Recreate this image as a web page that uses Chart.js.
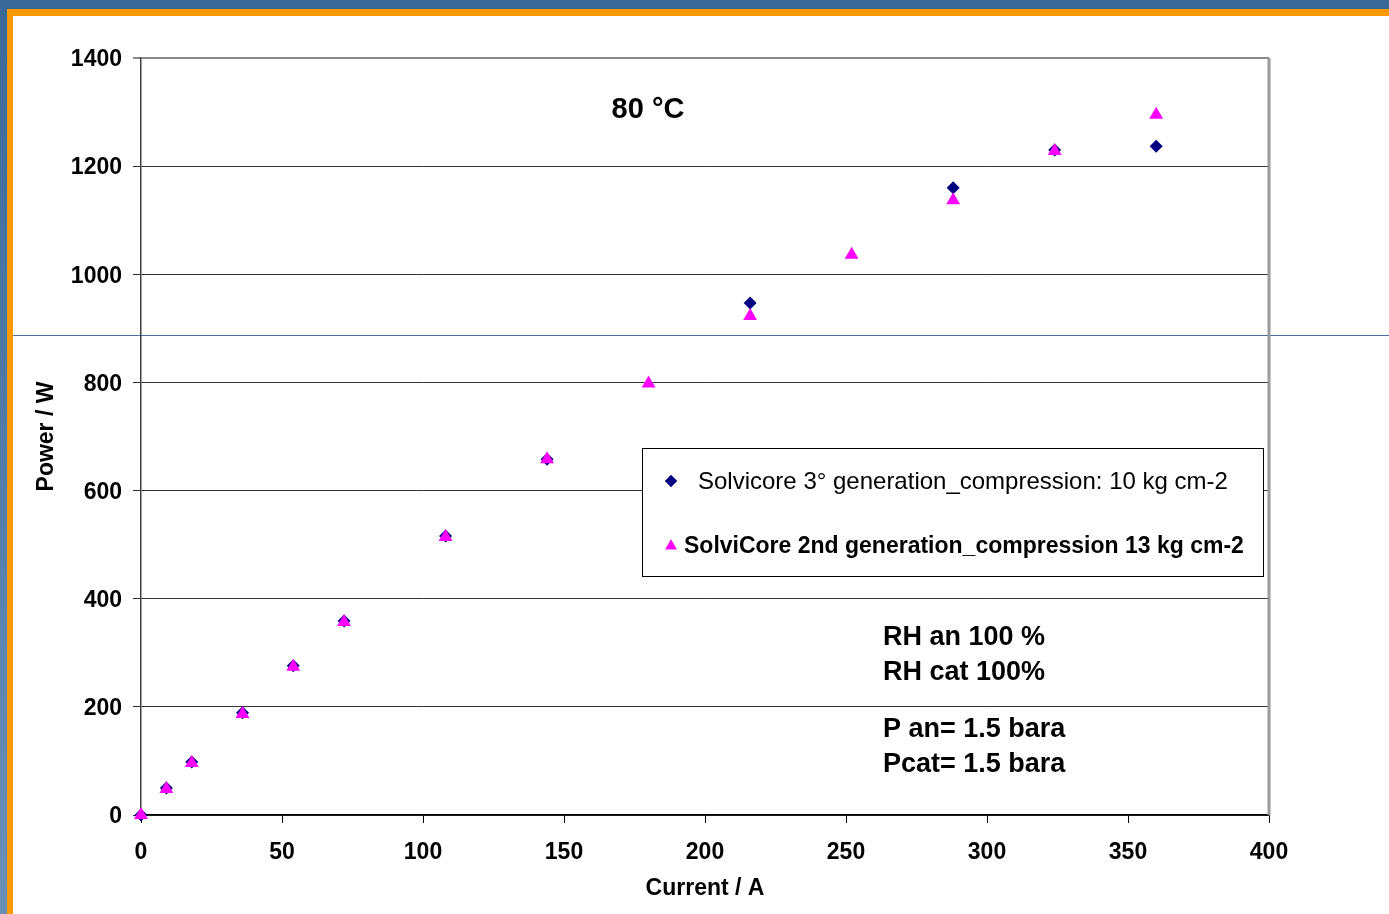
<!DOCTYPE html>
<html>
<head>
<meta charset="utf-8">
<script src="https://cdn.jsdelivr.net/npm/chart.js@4/dist/chart.umd.min.js"></script>
<style>
  html, body { margin: 0; padding: 0; background: #fff; }
  #page { position: relative; width: 1389px; height: 914px; overflow: hidden; background: #fff; }
  .strip { position: absolute; }
  #topBlue { left: 0; top: 0; width: 1389px; height: 9px; background: #3a6999; }
  #leftBlue { left: 0; top: 0; width: 7px; height: 914px; background: linear-gradient(#3a6999, #6a90b8); }
  #topOrange { left: 7px; top: 9px; width: 1382px; height: 7px; background: #ff9900; }
  #leftOrange { left: 7px; top: 9px; width: 6px; height: 905px; background: #ff9900; }
  #rule { left: 13px; top: 335px; width: 1376px; height: 1px; background: #4a6f9f; }
  #wrap { position: absolute; left: 0; top: 0; width: 1389px; height: 914px; }
</style>
</head>
<body>
<div id="page">
  <div class="strip" id="topBlue"></div>
  <div class="strip" id="leftBlue"></div>
  <div class="strip" id="topOrange"></div>
  <div class="strip" id="leftOrange"></div>
  <div class="strip" id="rule"></div>
  <div id="wrap"><canvas id="powerChart" width="1389" height="914"></canvas></div>
</div>
<script>
// Data
const current3rd = [0, 9, 18, 36, 54, 72, 108, 144, 216, 288, 324, 360];
const power3rd   = [0, 50, 98, 189, 276, 359, 516, 658, 947, 1160, 1230, 1237];

const current2nd = [0, 9, 18, 36, 54, 72, 108, 144, 180, 216, 252, 288, 324, 360];
const power2nd   = [0, 48, 96, 187, 274, 357, 514, 658, 798, 923, 1036, 1137, 1228, 1295];

const xTicks = [0, 50, 100, 150, 200, 250, 300, 350, 400];
const yTicks = [0, 200, 400, 600, 800, 1000, 1200, 1400];

const label3rd = "Solvicore 3° generation_compression: 10 kg cm-2";
const label2nd = "SolviCore 2nd generation_compression 13 kg cm-2";
const tempLabel = "80 °C";
const conditions = ["RH an 100 %", "RH cat 100%", "P an= 1.5 bara", "Pcat= 1.5 bara"];

const toPoints = (xs, ys) => xs.map((x, i) => ({ x: x, y: ys[i] }));

const FONT = "'Liberation Sans', Arial, sans-serif";

// frame, legend box and text notes
const extras = {
  id: "extras",
  beforeDatasetsDraw(chart) {
    const { ctx, chartArea } = chart;
    ctx.save();
    ctx.strokeStyle = "#9a9a9a";
    ctx.lineWidth = 3;
    ctx.beginPath();
    ctx.moveTo(chartArea.right, chartArea.top);
    ctx.lineTo(chartArea.right, chartArea.bottom);
    ctx.stroke();
    ctx.restore();
  },
  afterDraw(chart) {
    const { ctx } = chart;
    ctx.save();

    // legend box
    ctx.fillStyle = "#fff";
    ctx.fillRect(642, 448, 621, 128);
    ctx.strokeStyle = "#000";
    ctx.lineWidth = 1;
    ctx.strokeRect(642.5, 448.5, 621, 128);

    const ds = chart.data.datasets;
    ctx.textBaseline = "middle";
    ctx.textAlign = "left";

    ctx.fillStyle = ds[1].backgroundColor;
    Chart.helpers.drawPoint(ctx, { pointStyle: "rectRot", radius: 6, borderWidth: 0 }, 671, 481);
    ctx.fill();
    ctx.fillStyle = "#000";
    ctx.font = "24px " + FONT;
    ctx.fillText(ds[1].label, 698, 482);

    ctx.fillStyle = ds[0].backgroundColor;
    Chart.helpers.drawPoint(ctx, { pointStyle: "triangle", radius: 6.5, borderWidth: 0 }, 671, 546);
    ctx.fill();
    ctx.fillStyle = "#000";
    ctx.font = "bold 23px " + FONT;
    ctx.fillText(ds[0].label, 684, 547);

    // notes
    ctx.font = "bold 29px " + FONT;
    ctx.textAlign = "center";
    ctx.fillText(tempLabel, 648, 110);

    ctx.font = "bold 27px " + FONT;
    ctx.textAlign = "left";
    const noteY = [638, 673, 730, 765];
    conditions.forEach((t, i) => ctx.fillText(t, 883, noteY[i]));

    ctx.restore();
  }
};

const tickFont = { family: FONT, size: 23, weight: "bold" };

new Chart(document.getElementById("powerChart"), {
  type: "scatter",
  data: {
    datasets: [
      {
        label: label2nd,
        data: toPoints(current2nd, power2nd),
        pointStyle: "triangle",
        pointRadius: 8,
        pointHoverRadius: 8,
        backgroundColor: "#ff00ff",
        borderColor: "#ff00ff",
        borderWidth: 0,
        clip: false,
        order: 0
      },
      {
        label: label3rd,
        data: toPoints(current3rd, power3rd),
        pointStyle: "rectRot",
        pointRadius: 6.5,
        pointHoverRadius: 6.5,
        backgroundColor: "#000080",
        borderColor: "#000080",
        borderWidth: 0,
        clip: false,
        order: 1
      }
    ]
  },
  options: {
    responsive: false,
    animation: false,
    events: [],
    layout: { padding: { left: 0, right: 120, top: 58, bottom: 0 } },
    plugins: {
      legend: { display: false },
      tooltip: { enabled: false }
    },
    scales: {
      x: {
        type: "linear",
        min: 0,
        max: 400,
        afterFit: (s) => { s.height = 99; },
        afterBuildTicks: (s) => { s.ticks = xTicks.map((v) => ({ value: v })); },
        border: { color: "#000", width: 1.5 },
        grid: { drawOnChartArea: false, color: "#000", tickLength: 8 },
        ticks: { color: "#000", font: tickFont, padding: 16, maxRotation: 0, callback: (v) => String(v) },
        title: {
          display: true,
          text: "Current / A",
          color: "#000",
          font: tickFont,
          padding: { top: 0, bottom: 12 }
        }
      },
      y: {
        type: "linear",
        min: 0,
        max: 1400,
        afterFit: (s) => { s.width = 141; },
        afterBuildTicks: (s) => { s.ticks = yTicks.map((v) => ({ value: v })); },
        border: { color: "#404040", width: 1.5 },
        grid: {
          color: (c) => (c.tick && c.tick.value === 1400 ? "#8a8a8a" : "#333"),
          lineWidth: (c) => (c.tick && c.tick.value === 1400 ? 2 : 1),
          tickLength: 8
        },
        ticks: { color: "#000", font: tickFont, padding: 11, labelOffset: 2, callback: (v) => String(v) },
        title: {
          display: true,
          text: "Power / W",
          color: "#000",
          font: tickFont,
          padding: { top: 33, bottom: 0 }
        }
      }
    }
  },
  plugins: [extras]
});
</script>
</body>
</html>
